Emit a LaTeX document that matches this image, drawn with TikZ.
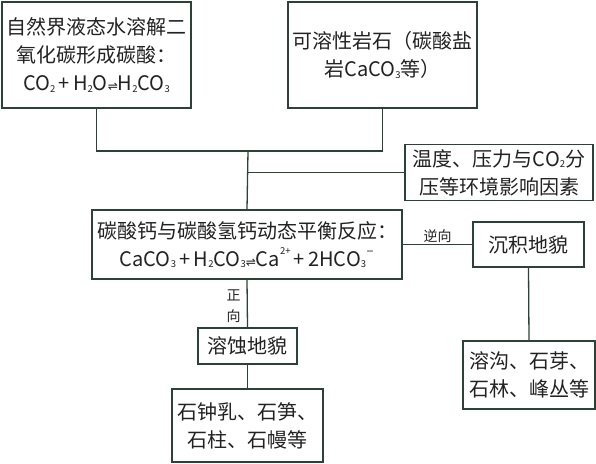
\documentclass[tikz,border=0pt]{standalone}
\usepackage{fontspec}
\usepackage{xcolor}
\usepackage{tikz}
\setmainfont{Noto Sans CJK SC}
\newfontfamily\symfont{DejaVu Sans}
\definecolor{figline}{HTML}{2B4336}
\definecolor{figtext}{HTML}{222222}
\newcommand{\dn}[1]{\raisebox{-0.15ex}{\fontsize{9.5}{9.5}\selectfont #1}}
\newcommand{\up}[1]{\raisebox{1.1ex}{\fontsize{9.5}{9.5}\selectfont #1}}
\newcommand{\eqarrow}{{\symfont\fontsize{12}{12}\selectfont ⇌}}
\tikzset{
  flowbox/.style={draw=figline,line width=1.5pt,align=center,inner sep=2pt,text=figtext,font=\fontsize{20}{28}\selectfont},
  flowline/.style={draw=figline,line width=1.3pt},
  sidelabel/.style={text=figtext,align=center,inner sep=1pt,font=\fontsize{14}{21}\selectfont}
}

\begin{document}
\begin{tikzpicture}[x=1pt,y=-1pt]
  \useasboundingbox (0,0) rectangle (596,463);
  % sources
  \node[flowbox,minimum width=189pt,minimum height=106pt] (water) at (96.5,55)
    {自然界液态水溶解二\\氧化碳形成碳酸：\\CO\dn{2}\,+\,H\dn{2}O\eqarrow H\dn{2}CO\dn{3}};
  \node[flowbox,minimum width=189pt,minimum height=106pt] (rock) at (382.5,55)
    {可溶性岩石（碳酸盐\\岩CaCO\dn{3}等）};
  \node[flowbox,minimum width=188pt,minimum height=56pt] (factor) at (499,172.5)
    {温度、压力与CO\dn{2}分\\压等环境影响因素};
  % equilibrium
  \node[flowbox,minimum width=310pt,minimum height=69pt] (eq) at (247,244.5)
    {碳酸钙与碳酸氢钙动态平衡反应：\\CaCO\dn{3}\,+\,H\dn{2}CO\dn{3}\eqarrow Ca\up{2+}\,+\,2HCO\dn{3}\up{\symfont −}};
  \node[flowbox,minimum width=111pt,minimum height=45pt] (dep) at (528.5,244.5) {沉积地貌};
  \node[flowbox,minimum width=132pt,minimum height=68pt] (depforms) at (529,375)
    {溶沟、石芽、\\石林、峰丛等};
  \node[flowbox,minimum width=99pt,minimum height=36pt] (dis) at (247.5,346) {溶蚀地貌};
  \node[flowbox,minimum width=151pt,minimum height=73pt] (cave) at (247.5,425.5)
    {石钟乳、石笋、\\石柱、石幔等};
  % connectors
  \coordinate (jn) at (248,151);
  \draw[flowline] (water.south) |- (jn) -| (rock.south);
  \draw[flowline] (jn) -- (eq.north);
  \draw[flowline] (factor.west) -- (factor.west -| jn);
  \draw[flowline] (eq.east) -- node[sidelabel,above]{逆向} (dep.west);
  \draw[flowline] (dep.south) -- (depforms.north);
  \draw[flowline] (eq.south) -- node[sidelabel,left=5pt,pos=0.56]{正\\向} (dis.north);
  \draw[flowline] (dis.south) -- (cave.north);
\end{tikzpicture}
\end{document}
